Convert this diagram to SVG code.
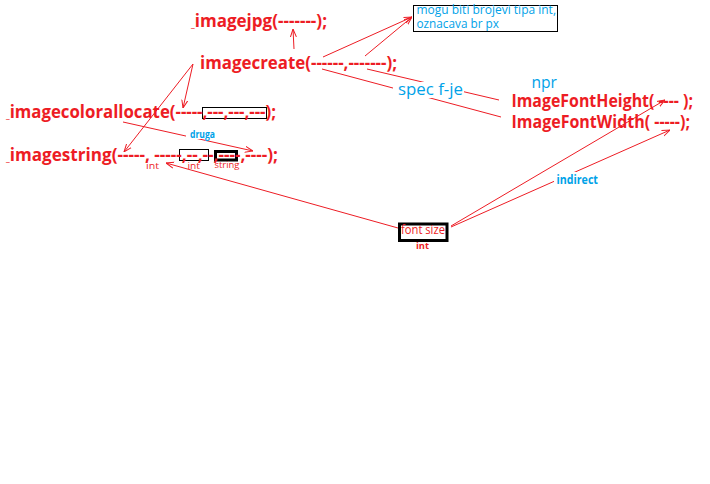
<svg xmlns="http://www.w3.org/2000/svg" width="710" height="484" viewBox="0 0 710 484">
  <defs>
    <marker id="arr" viewBox="0 0 8 8" refX="8" refY="4" markerWidth="8" markerHeight="8" markerUnits="userSpaceOnUse" orient="auto">
      <path d="M0,1 L8,4 L0,7" fill="none" stroke="#ED1C24" stroke-width="1"/>
    </marker>
    <style>
      .fn { font-family: "Open Sans", "Liberation Sans", sans-serif; font-weight: bold; font-size: 17px; fill: #ED1C24; }
      .note { font-family: "Open Sans", "Liberation Sans", sans-serif; fill: #00A2E8; }
      .small { font-family: "Open Sans", "Liberation Sans", sans-serif; font-size: 9.5px; fill: #ED1C24; }
      .us { font-size: 9px; }
      .conn line { stroke: #ED1C24; stroke-width: 1; fill: none; }
      .arrow { marker-end: url(#arr); }
      .box { fill: none; stroke: #000; }
      .bg { fill: #fff; }
    </style>
  </defs>
  <rect width="710" height="484" fill="#fff"/>

  <!-- connectors -->
  <g id="connectors" class="conn">
    <line class="arrow" x1="294" y1="49" x2="293" y2="29"/>
    <line class="arrow" x1="323" y1="57" x2="412" y2="17"/>
    <line class="arrow" x1="365" y1="56" x2="412" y2="17"/>
    <line x1="367" y1="69" x2="499" y2="100"/>
    <line x1="322" y1="69" x2="501" y2="117"/>
    <line class="arrow" x1="193" y1="64" x2="183" y2="108"/>
    <line class="arrow" x1="193" y1="64" x2="124" y2="152"/>
    <line class="arrow" x1="123" y1="122" x2="253" y2="151"/>
    <line class="arrow" x1="398" y1="228" x2="166" y2="163"/>
    <line class="arrow" x1="451" y1="226" x2="665" y2="100"/>
    <line class="arrow" x1="451" y1="227" x2="670" y2="130"/>
  </g>

  <!-- imagejpg call -->
  <g id="imagejpg">
    <text class="fn" x="191" y="27" textLength="136" lengthAdjust="spacingAndGlyphs"><tspan class="us">_</tspan>imagejpg(-------);</text>
  </g>

  <!-- imagecreate call -->
  <g id="imagecreate">
    <text class="fn" x="200" y="69" textLength="197" lengthAdjust="spacingAndGlyphs">imagecreate(------,-------);</text>
  </g>

  <!-- note on imagecreate arguments -->
  <g id="note-px">
    <rect class="box" x="413.5" y="5.5" width="144" height="26"/>
    <text class="note" font-size="12" x="416.5" y="14" textLength="139.5" lengthAdjust="spacingAndGlyphs">mogu biti brojevi tipa int,</text>
    <text class="note" font-size="12" x="416.5" y="27.5" textLength="82.5" lengthAdjust="spacingAndGlyphs">oznacava br px</text>
  </g>

  <!-- imagecolorallocate call -->
  <g id="imagecolorallocate">
    <rect class="box" x="202.5" y="107.5" width="64" height="11"/>
    <text class="fn" x="6" y="117.5" textLength="270" lengthAdjust="spacingAndGlyphs"><tspan class="us">_</tspan>imagecolorallocate(-----,---,---,---);</text>
  </g>

  <!-- label: druga -->
  <g id="druga">
    <rect class="bg" x="186" y="129" width="17" height="10"/>
    <text class="note" font-size="11" font-weight="bold" x="190" y="138" textLength="25" lengthAdjust="spacingAndGlyphs">druga</text>
  </g>

  <!-- imagestring call -->
  <g id="imagestring">
    <rect class="box" x="179.5" y="149.5" width="29" height="11"/>
    <rect class="box" x="215.5" y="151.5" width="21" height="8.5" stroke-width="3"/>
    <text class="fn" x="6" y="160.5" textLength="272" lengthAdjust="spacingAndGlyphs"><tspan class="us">_</tspan>imagestring(-----, -----,--,--,----,----);</text>
    <text class="small" x="146" y="168.5" textLength="13" lengthAdjust="spacingAndGlyphs">int</text>
    <text class="small" x="187.5" y="168.5" textLength="12.5" lengthAdjust="spacingAndGlyphs">int</text>
    <text class="small" x="214.5" y="168" textLength="25" lengthAdjust="spacingAndGlyphs">string</text>
  </g>

  <!-- label: spec f-je -->
  <g id="spec">
    <rect class="bg" x="393" y="82" width="71" height="16"/>
    <text class="note" font-size="16" x="398" y="95" textLength="65" lengthAdjust="spacingAndGlyphs">spec f-je</text>
  </g>

  <!-- label: npr -->
  <g id="npr">
    <text class="note" font-size="16" x="531.5" y="87.5" textLength="25.5" lengthAdjust="spacingAndGlyphs">npr</text>
  </g>

  <!-- ImageFontHeight call -->
  <g id="imagefontheight">
    <text class="fn" x="511.5" y="107" textLength="181.5" lengthAdjust="spacingAndGlyphs">ImageFontHeight( ---- );</text>
  </g>

  <!-- ImageFontWidth call -->
  <g id="imagefontwidth">
    <text class="fn" x="511.5" y="128" textLength="178.5" lengthAdjust="spacingAndGlyphs">ImageFontWidth( -----);</text>
  </g>

  <!-- label: indirect -->
  <g id="indirect">
    <rect class="bg" x="554" y="172" width="46" height="14"/>
    <text class="note" font-size="12" font-weight="bold" x="556.5" y="184" textLength="41.5" lengthAdjust="spacingAndGlyphs">indirect</text>
  </g>

  <!-- font size node -->
  <g id="fontsize">
    <rect x="399.5" y="224" width="47.5" height="16.5" fill="#fff" stroke="#000" stroke-width="3"/>
    <text font-family="Open Sans, Liberation Sans, sans-serif" font-size="13" fill="#ED1C24" x="401" y="234" textLength="44" lengthAdjust="spacingAndGlyphs">font size</text>
    <text class="small" font-weight="bold" x="416" y="248.5" textLength="13" lengthAdjust="spacingAndGlyphs">int</text>
  </g>
</svg>
